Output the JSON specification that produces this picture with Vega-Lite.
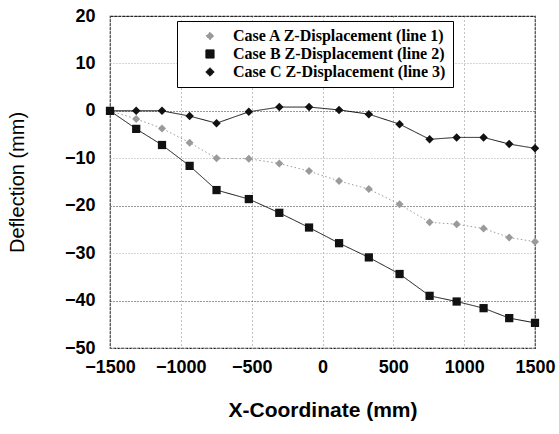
{
  "$schema": "https://vega.github.io/schema/vega-lite/v6.json",
  "width": 425,
  "height": 332,
  "autosize": {"type": "none"},
  "padding": {"left": 110, "top": 16, "right": 24, "bottom": 86},
  "background": "white",
  "config": {
    "view": {"stroke": "#222", "strokeWidth": 1.2, "strokeDash": [3, 1]},
    "font": "Liberation Sans"
  },
  "data": {
    "values": [
      {"series": "Case A Z-Displacement (line 1)", "x": -1500, "y": 0},
      {"series": "Case A Z-Displacement (line 1)", "x": -1315, "y": -1.7},
      {"series": "Case A Z-Displacement (line 1)", "x": -1133, "y": -3.7},
      {"series": "Case A Z-Displacement (line 1)", "x": -938, "y": -6.7},
      {"series": "Case A Z-Displacement (line 1)", "x": -748, "y": -10.0},
      {"series": "Case A Z-Displacement (line 1)", "x": -520, "y": -10.1},
      {"series": "Case A Z-Displacement (line 1)", "x": -305, "y": -11.1},
      {"series": "Case A Z-Displacement (line 1)", "x": -95, "y": -12.7},
      {"series": "Case A Z-Displacement (line 1)", "x": 117, "y": -14.8},
      {"series": "Case A Z-Displacement (line 1)", "x": 327, "y": -16.5},
      {"series": "Case A Z-Displacement (line 1)", "x": 544, "y": -19.7},
      {"series": "Case A Z-Displacement (line 1)", "x": 756, "y": -23.5},
      {"series": "Case A Z-Displacement (line 1)", "x": 947, "y": -23.9},
      {"series": "Case A Z-Displacement (line 1)", "x": 1137, "y": -24.8},
      {"series": "Case A Z-Displacement (line 1)", "x": 1318, "y": -26.7},
      {"series": "Case A Z-Displacement (line 1)", "x": 1500, "y": -27.6},
      {"series": "Case B Z-Displacement (line 2)", "x": -1500, "y": 0},
      {"series": "Case B Z-Displacement (line 2)", "x": -1315, "y": -3.8},
      {"series": "Case B Z-Displacement (line 2)", "x": -1133, "y": -7.2},
      {"series": "Case B Z-Displacement (line 2)", "x": -938, "y": -11.6},
      {"series": "Case B Z-Displacement (line 2)", "x": -748, "y": -16.7},
      {"series": "Case B Z-Displacement (line 2)", "x": -520, "y": -18.6},
      {"series": "Case B Z-Displacement (line 2)", "x": -305, "y": -21.5},
      {"series": "Case B Z-Displacement (line 2)", "x": -95, "y": -24.6},
      {"series": "Case B Z-Displacement (line 2)", "x": 117, "y": -27.9},
      {"series": "Case B Z-Displacement (line 2)", "x": 327, "y": -30.9},
      {"series": "Case B Z-Displacement (line 2)", "x": 544, "y": -34.4},
      {"series": "Case B Z-Displacement (line 2)", "x": 756, "y": -39.0},
      {"series": "Case B Z-Displacement (line 2)", "x": 947, "y": -40.2},
      {"series": "Case B Z-Displacement (line 2)", "x": 1137, "y": -41.6},
      {"series": "Case B Z-Displacement (line 2)", "x": 1318, "y": -43.7},
      {"series": "Case B Z-Displacement (line 2)", "x": 1500, "y": -44.7},
      {"series": "Case C Z-Displacement (line 3)", "x": -1500, "y": 0},
      {"series": "Case C Z-Displacement (line 3)", "x": -1315, "y": 0},
      {"series": "Case C Z-Displacement (line 3)", "x": -1133, "y": 0},
      {"series": "Case C Z-Displacement (line 3)", "x": -938, "y": -1.1},
      {"series": "Case C Z-Displacement (line 3)", "x": -748, "y": -2.6},
      {"series": "Case C Z-Displacement (line 3)", "x": -520, "y": -0.2},
      {"series": "Case C Z-Displacement (line 3)", "x": -305, "y": 0.8},
      {"series": "Case C Z-Displacement (line 3)", "x": -95, "y": 0.8},
      {"series": "Case C Z-Displacement (line 3)", "x": 117, "y": 0.2},
      {"series": "Case C Z-Displacement (line 3)", "x": 327, "y": -0.7},
      {"series": "Case C Z-Displacement (line 3)", "x": 544, "y": -2.8},
      {"series": "Case C Z-Displacement (line 3)", "x": 756, "y": -6.0},
      {"series": "Case C Z-Displacement (line 3)", "x": 947, "y": -5.6},
      {"series": "Case C Z-Displacement (line 3)", "x": 1137, "y": -5.6},
      {"series": "Case C Z-Displacement (line 3)", "x": 1318, "y": -7.0},
      {"series": "Case C Z-Displacement (line 3)", "x": 1500, "y": -7.9}
    ]
  },
  "encoding": {
    "x": {
      "field": "x", "type": "quantitative",
      "scale": {"domain": [-1500, 1500], "nice": false, "zero": false},
      "axis": {
        "values": [-1500, -1000, -500, 0, 500, 1000, 1500],
        "format": "d",
        "title": "X-Coordinate (mm)",
        "labelFont": "Liberation Sans", "labelFontWeight": "bold", "labelFontSize": 18, "labelColor": "black",
        "labelPadding": 10, "labelFlush": false, "labelOverlap": false, "labelBound": false,
        "ticks": false, "domain": false,
        "grid": true, "gridColor": "#888", "gridDash": [1, 3], "gridWidth": 1,
        "titleFont": "Liberation Sans", "titleFontWeight": "bold", "titleFontSize": 21, "titleColor": "black",
        "titlePadding": 23
      }
    },
    "y": {
      "field": "y", "type": "quantitative",
      "scale": {"domain": [-50, 20], "nice": false, "zero": false},
      "axis": {
        "values": [-50, -40, -30, -20, -10, 0, 10, 20],
        "format": "d",
        "title": "Deflection (mm)",
        "labelFont": "Liberation Sans", "labelFontWeight": "bold", "labelFontSize": 18, "labelColor": "black",
        "labelPadding": 15, "labelOverlap": false, "labelBound": false, "labelFlush": false,
        "ticks": false, "domain": false,
        "grid": true,
        "gridColor": {"condition": {"test": "datum.value % 20 === 0", "value": "#333333"}, "value": "#aaaaaa"},
        "gridDash": [1, 2], "gridWidth": 1,
        "titleFont": "Liberation Sans", "titleFontWeight": "normal", "titleFontSize": 20, "titleColor": "black",
        "titlePadding": 37
      }
    },
    "color": {
      "field": "series", "type": "nominal",
      "scale": {
        "domain": ["Case A Z-Displacement (line 1)", "Case B Z-Displacement (line 2)", "Case C Z-Displacement (line 3)"],
        "range": ["#9a9a9a", "#111111", "#111111"]
      },
      "legend": {
        "title": null,
        "orient": "none", "legendX": 67, "legendY": 5,
        "direction": "vertical",
        "strokeColor": "black", "fillColor": "white", "padding": 7,
        "labelFont": "Liberation Serif", "labelFontWeight": "bold", "labelFontSize": 16, "labelColor": "black",
        "labelLimit": 400,
        "symbolSize": 49, "symbolOffset": 18, "labelOffset": 15, "rowPadding": 2
      }
    }
  },
  "layer": [
    {
      "mark": {"type": "line"},
      "encoding": {
        "strokeDash": {
          "field": "series", "type": "nominal",
          "scale": {
            "domain": ["Case A Z-Displacement (line 1)", "Case B Z-Displacement (line 2)", "Case C Z-Displacement (line 3)"],
            "range": [[1.5, 2.5], [1, 0], [1, 0]]
          },
          "legend": null
        },
        "strokeWidth": {
          "field": "series", "type": "ordinal",
          "scale": {
            "domain": ["Case A Z-Displacement (line 1)", "Case B Z-Displacement (line 2)", "Case C Z-Displacement (line 3)"],
            "range": [1, 1, 1.6]
          },
          "legend": null
        }
      }
    },
    {
      "mark": {"type": "point", "filled": true, "opacity": 1},
      "encoding": {
        "shape": {
          "field": "series", "type": "nominal",
          "scale": {
            "domain": ["Case A Z-Displacement (line 1)", "Case B Z-Displacement (line 2)", "Case C Z-Displacement (line 3)"],
            "range": ["diamond", "square", "diamond"]
          },
          "legend": null
        },
        "size": {
          "field": "series", "type": "ordinal",
          "scale": {
            "domain": ["Case A Z-Displacement (line 1)", "Case B Z-Displacement (line 2)", "Case C Z-Displacement (line 3)"],
            "range": [64, 72, 50]
          },
          "legend": null
        }
      }
    }
  ]
}
